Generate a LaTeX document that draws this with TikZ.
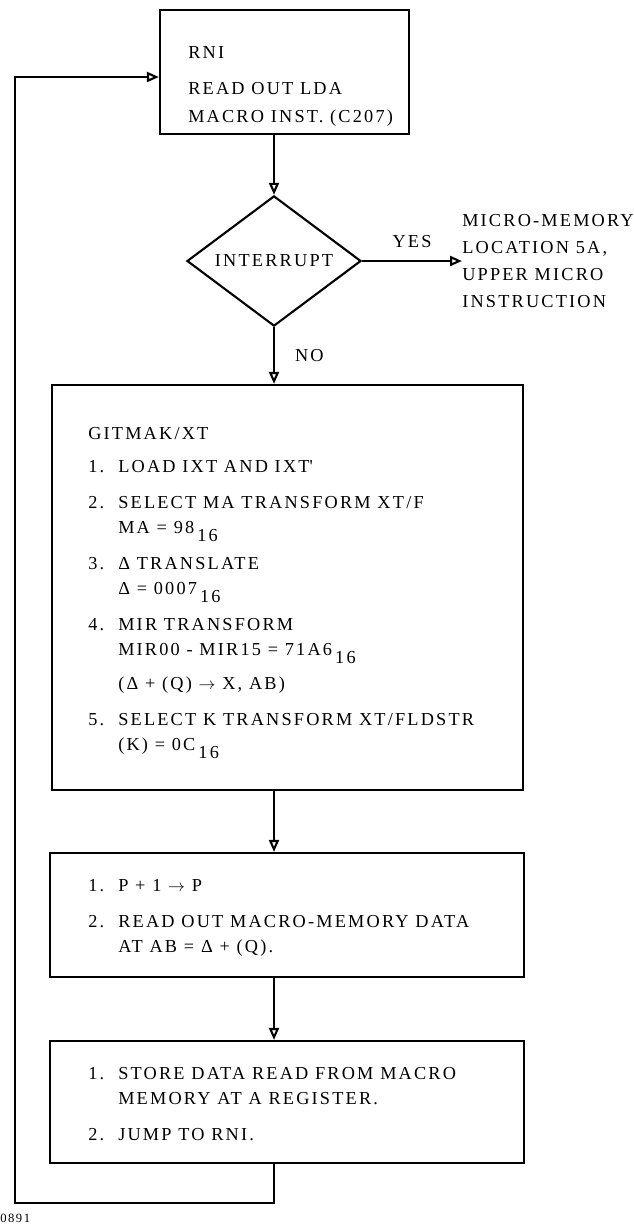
\documentclass[tikz,border=0pt]{standalone}
\usepackage{fontspec}
\setmainfont{Liberation Serif}[LetterSpace=12]
\usetikzlibrary{arrows.meta,shapes.geometric}

\newcommand\hexsub[1]{\raisebox{-0.45em}[0pt][0pt]{\,#1}}
\newcommand\stepno[1]{\makebox[0.75cm][l]{#1}}
\newcommand\stepgap{\hspace*{0.75cm}}

\begin{document}
\begin{tikzpicture}[
        x=0.025cm, y=-0.025cm,
        font=\fontsize{13}{17.8}\selectfont,
        box/.style={draw, line width=1.5pt, inner sep=0pt},
        decision/.style={draw, diamond, line width=1.5pt, inner sep=0pt,
            minimum width=4.35cm, minimum height=3.2cm},
        txt/.style={anchor=north west, align=left, inner sep=0pt},
        flow/.style={line width=1.5pt, -{Triangle[open, length=0.3cm, width=0.25cm]}},
        lbl/.style={inner sep=0pt}
    ]
        \useasboundingbox (0,0) rectangle (633,1229);

        % Boxes
        \node[box, minimum width=6.225cm, minimum height=3.1cm] (rni) at (284.5,72) {};
        \node[decision] (dia) at (274,261) {INTERRUPT};
        \node[box, minimum width=11.775cm, minimum height=10.125cm] (git) at (287.5,587.5) {};
        \node[box, minimum width=11.85cm, minimum height=3.1cm] (inc) at (287,915) {};
        \node[box, minimum width=11.85cm, minimum height=3.05cm] (store) at (287,1102) {};

        % Box texts
        \node[txt] (rnitxt) at (188,46) {RNI\\[7.8pt]READ OUT LDA\\[2pt]MACRO INST. (C207)};
        \node[txt] (gittxt) at (88,427) {GITMAK/XT\\[5.7pt]
            \stepno{1.}LOAD IXT AND IXT\textquotesingle\\[7.8pt]
            \stepno{2.}SELECT MA TRANSFORM XT/F\\
            \stepgap MA = 98\hexsub{16}\\[7.8pt]
            \stepno{3.}Δ TRANSLATE\\
            \stepgap Δ = 0007\hexsub{16}\\[7.8pt]
            \stepno{4.}MIR TRANSFORM\\
            \stepgap MIR00 - MIR15 = 71A6\hexsub{16}\\[6.4pt]
            \stepgap (Δ + (Q) $\rightarrow$ X, AB)\\[7.8pt]
            \stepno{5.}SELECT K TRANSFORM XT/FLDSTR\\
            \stepgap (K) = 0C\hexsub{16}};
        \node[txt] (inctxt) at (88,879) {\stepno{1.}P + 1 $\rightarrow$ P\\[7.8pt]
            \stepno{2.}READ OUT MACRO-MEMORY DATA\\
            \stepgap AT AB = Δ + (Q).};
        \node[txt] (storetxt) at (88,1067) {\stepno{1.}STORE DATA READ FROM MACRO\\
            \stepgap MEMORY AT A REGISTER.\\[7.8pt]
            \stepno{2.}JUMP TO RNI.};
        \node[txt, anchor=west] (dest) at (462,261) {MICRO-MEMORY\\[1.4pt]LOCATION 5A,\\[1.4pt]UPPER MICRO\\[1.4pt]INSTRUCTION};

        % Connectors
        \coordinate (back) at (15,1203);
        \draw[flow] (rni.south -| dia) -- (dia.north);
        \draw[flow] (dia.east) -- node[lbl, above=9pt] (yes) {YES} (dest.west);
        \draw[flow] (dia.south) -- node[lbl, right=0.5cm] (no) {NO} (dia.south |- git.north);
        \draw[flow] (git.south -| dia) -- (inc.north -| dia);
        \draw[flow] (inc.south -| dia) -- (store.north -| dia);
        \draw[flow] (store.south -| dia) |- (back) |- ([yshift=-0.125cm]rni.west);

        \node[lbl, anchor=west, font=\small] (figno) at (0,1218) {0891};
    \end{tikzpicture}
\end{document}
